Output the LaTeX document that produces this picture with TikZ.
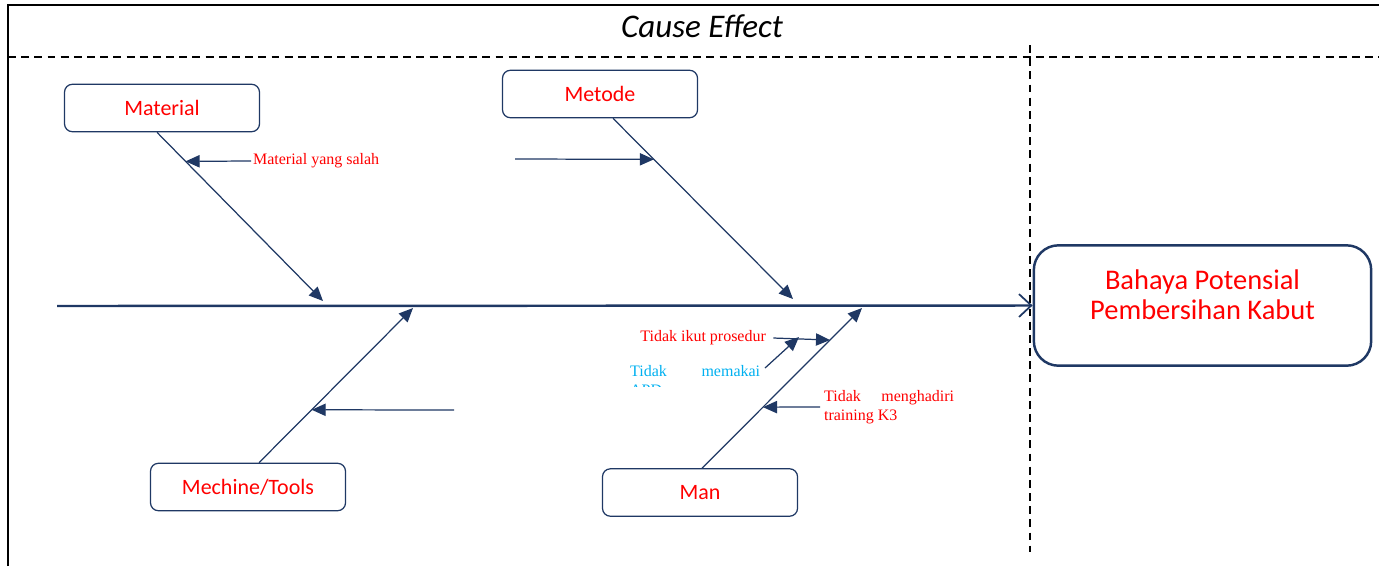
\documentclass[tikz,border=0pt]{standalone}
\usepackage{fontspec}
\setmainfont{Carlito}
\newfontfamily\timesfont{Liberation Serif}
\usetikzlibrary{calc,arrows.meta}
\definecolor{navy}{RGB}{31,56,100}
\definecolor{causered}{RGB}{255,0,0}
\definecolor{apdblue}{RGB}{0,176,240}
\newcommand*{\boxw}{111pt}
\newcommand*{\boxh}{27pt}
\newcommand*{\labw}{74pt}
\tikzset{
	causebox/.style={
		rectangle,
		rounded corners=4.5pt,
		minimum width=\boxw,
		minimum height=\boxh,
		draw=navy,
		line width=0.7pt,
		text=causered,
		font=\fontsize{12.5}{14}\selectfont
	},
	effectbox/.style={
		rectangle,
		rounded corners=14pt,
		minimum width=192pt,
		minimum height=68.5pt,
		draw=navy,
		line width=1.4pt,
		text=causered,
		align=center,
		font=\fontsize{16.2}{17}\selectfont
	},
	bone/.style={
		draw=navy,
		line width=0.7pt,
		-{Triangle[length=8pt,width=7pt]}
	},
	spine/.style={
		draw=navy,
		line width=1.4pt,
		-{Straight Barb[length=7pt,width=13pt,line width=1pt]}
	},
	sublabel/.style={
		inner sep=1pt,
		text=causered,
		font=\timesfont\fontsize{9.1}{11}\selectfont
	},
	divider/.style={
		draw=black,
		line width=1.3pt,
		dash pattern=on 4.5pt off 3pt
	}
}
\begin{document}
\begin{tikzpicture}[x=0.02cm,y=-0.02cm]
	\useasboundingbox (0,0) rectangle (1379,566);
	% frame and dividers
	\draw[line width=1.6pt] (8,566) -- (8,5) -- (1379,5);
	\node (title) at (702,26) {\fontsize{18.8}{20}\selectfont\itshape Cause Effect};
	\draw[divider] (8,57) -- (1379,57);
	\draw[divider] (1030,45) -- (1030,552);
	% head and spine
	\node (effect) [effectbox] at (1202.5,305.5) {};
	\node (effecttext) [text=causered, align=center, font=\fontsize{16.2}{17}\selectfont] at (1202.5,295) {Bahaya Potensial\\Pembersihan Kabut};
	\coordinate (tail) at (57,306);
	\draw[spine] (tail) -- (effect.west);
	% category boxes
	\node (material) [causebox] at (162,108) {Material};
	\node (metode) [causebox] at (600,94) {Metode};
	\node (mechine) [causebox] at (248,487) {Mechine/Tools};
	\node (man) [causebox] at (700,492.5) {Man};
	% bones
	\coordinate (matTop) at ($(material.south)+(-5,0)$);
	\coordinate (metTop) at ($(metode.south)+(13,0)$);
	\coordinate (mecBot) at ($(mechine.north)+(11,0)$);
	\coordinate (manBot) at ($(man.north)+(2,0)$);
	\coordinate (matEnd) at (323,301);
	\coordinate (metEnd) at (793,299);
	\coordinate (mecEnd) at (413,308);
	\coordinate (manEnd) at (862,308);
	\draw[bone] (matTop) -- (matEnd);
	\draw[bone] (metTop) -- (metEnd);
	\draw[bone] (mecBot) -- (mecEnd);
	\draw[bone] (manBot) -- (manEnd);
	% sub causes
	\node (salah) [sublabel, anchor=west] at (251,161) {Material yang salah};
	\draw[bone] (salah.west) -- ($(matTop)!0.172!(matEnd)$);
	\coordinate (metFree) at (515,159);
	\draw[bone] (metFree) -- ($(metTop)!0.227!(metEnd)$);
	\coordinate (mecFree) at (454,410);
	\draw[bone] (mecFree) -- ($(mecBot)!0.342!(mecEnd)$);
	\node (prosedur) [sublabel, anchor=east] at (768,338) {Tidak ikut prosedur};
	\coordinate (prosEnd) at ($(manBot)!0.8!(manEnd)$);
	\draw[bone] ([xshift=3pt]prosedur.east) -- (prosEnd);
	\begin{scope}
		\clip (600,355) rectangle (790,386);
		\node (apd) [sublabel, text=apdblue, anchor=north west, align=left] at (628,363)
			{\makebox[\labw][s]{Tidak memakai}\\APD};
	\end{scope}
	\coordinate (apdFree) at (765,368);
	\draw[bone] (apdFree) -- (799,337);
	\node (training) [sublabel, anchor=north west, align=left] at (822,388)
		{\makebox[\labw][s]{Tidak menghadiri}\\training K3};
	\draw[bone] (820,407) -- ($(manBot)!0.381!(manEnd)$);
\end{tikzpicture}
\end{document}
